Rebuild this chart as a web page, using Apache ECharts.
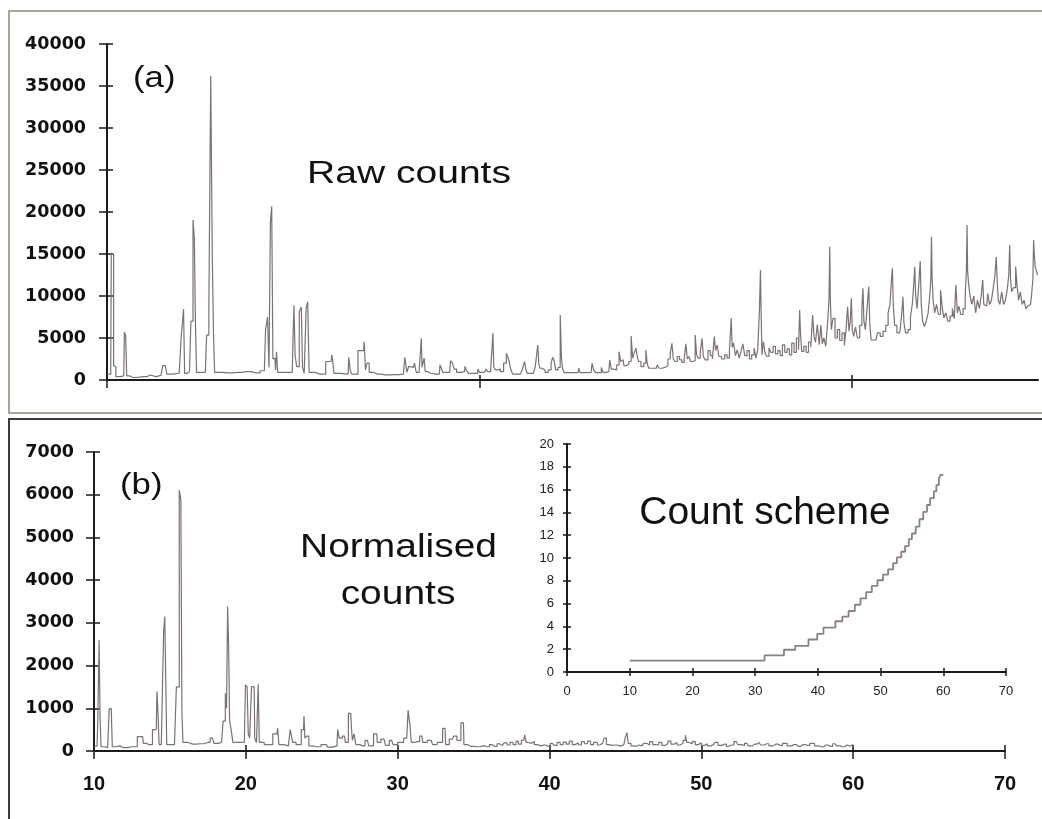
<!DOCTYPE html>
<html>
<head>
<meta charset="utf-8">
<script src="https://cdn.jsdelivr.net/npm/echarts/dist/echarts.min.js"></script>
<style>
html,body{margin:0;padding:0;background:#fff;}
#c{width:1042px;height:819px;}
</style>
</head>
<body>
<div id="c"></div>
<script>
// ---- Panel (a): raw counts [x, counts] ----
const rawCounts = [
[10.0,700],[10.2,700],[10.26,15100],[10.33,15000],[10.38,1700],[10.45,1600],[10.5,400],[10.9,500],[10.97,5700],[11.03,5300],[11.09,500],[11.3,300],[11.5,350],[12.0,400],[12.3,600],[12.4,400],[12.9,550],[13.09,1700],[13.18,1800],[13.25,700],[13.88,800],[14.08,5000],[14.14,8450],[14.2,800],[14.43,1000],[14.58,7000],[14.66,19050],[14.72,16900],[14.78,6800],[14.84,900],[15.28,900],[15.42,5350],[15.52,8500],[15.62,36200],[15.69,14500],[15.75,5500],[15.81,900],[16.5,850],[17.0,900],[17.5,1000],[18.0,850],[18.45,1100],[18.58,5950],[18.66,7500],[18.74,1500],[18.81,18700],[18.88,20650],[18.94,2500],[19.02,2600],[19.08,1200],[19.13,3350],[19.2,900],[19.95,900],[20.01,4000],[20.07,8900],[20.13,3000],[20.25,1600],[20.4,8150],[20.47,8700],[20.53,1500],[20.65,800],[20.74,8550],[20.82,9300],[20.89,900],[21.45,700],[22.04,2200],[22.1,3000],[22.15,2300],[22.22,800],[22.95,700],[23.02,2700],[23.1,1200],[23.18,700],[23.78,3500],[23.85,4560],[23.91,1200],[24.03,2000],[24.13,900],[24.53,700],[24.93,600],[25.42,650],[25.92,700],[26.07,2700],[26.14,900],[26.26,1600],[26.36,1800],[26.46,1500],[26.56,2000],[26.66,900],
[26.86,900],[26.9,4960],[26.94,1500],[27.0,2000],[27.06,2600],[27.12,1000],[27.3,800],[27.5,700],[27.85,700],[27.92,1800],[28.0,1400],[28.08,900],[28.4,900],[28.5,2300],[28.6,2000],[28.7,1300],[28.85,900],[29.2,1000],[29.25,1600],[29.35,1200],[29.45,800],[29.9,800],[29.95,1300],[30.05,900],[30.3,1000],[30.4,1300],[30.5,1000],[30.7,1200],[30.75,5560],[30.8,1500],[30.95,1200],[31.05,1300],[31.2,1000],[31.4,2000],[31.5,3170],[31.56,2700],[31.64,2200],[31.72,1300],[31.85,700],[32.2,700],[32.4,1200],[32.45,2200],[32.52,1400],[32.6,800],[32.9,800],[33.1,1600],[33.17,4170],[33.22,1800],[33.3,1400],[33.45,1200],[33.6,900],[33.8,1200],[33.9,2000],[33.97,2700],[34.05,2300],[34.15,1200],[34.3,1500],[34.38,7740],[34.43,2700],[34.5,1400],[34.6,870],[35.3,870],[35.38,1400],[35.44,870],[36.0,900],[36.1,2000],[36.18,1200],[36.3,870],[36.5,870],[36.6,1500],[36.68,900],[36.95,1000],[37.05,2380],[37.12,1300],[37.3,1200],[37.45,1800],[37.55,3370],[37.62,2200],[37.72,2400],[37.8,1700],[37.95,1900],[38.1,2200],[38.2,5240],[38.26,2600],[38.36,3200],[38.45,3800],[38.52,2700],[38.6,2200],[38.75,1600],[38.9,2000],[38.98,3570],[39.05,1900],[39.15,1400],[39.5,1400],[39.6,1800],[39.7,1400],[39.9,1500],[40.05,1700],[40.2,2500],[40.3,3200],[40.38,4370],[40.45,2500],[40.55,2200],[40.7,2800],[40.8,2400],[40.95,2100],[41.05,2600],[41.13,4300],[41.2,2500],[41.3,2800],[41.4,2200],[41.55,2300],[41.63,5360],[41.7,3000],[41.8,2600],[41.92,3300],[41.99,4960],[42.06,2800],[42.2,2400],[42.35,3500],[42.45,2900],[42.58,2500],[42.65,5160],[42.72,3500],[42.82,4170],[42.9,2800],[43.1,2500],[43.25,3000],[43.35,2600],[43.5,3400],[43.55,7340],[43.6,3900],[43.7,4400],[43.8,2900],[43.9,3600],[44.0,2600],[44.1,3400],[44.2,4300],[44.3,2900],[44.45,3500],[44.55,2500],[44.7,3000],[44.8,3800],[44.9,2600],[45.0,3700],[45.08,8330],[45.11,13100],[45.15,8000],[45.2,3000],[45.3,4560],[45.38,3200],[45.5,2800],[45.6,3800],[45.7,3300],[45.85,4000],[45.95,3100],[46.1,3500],[46.2,2900],[46.35,4170],[46.45,3300],[46.6,3700],[46.7,3000],[46.85,4400],[46.95,3300],[47.1,5000],[47.18,3600],[47.22,8330],[47.27,5500],[47.35,3400],[47.5,4000],[47.6,3300],[47.75,4500],[47.85,3900],[47.94,7740],[48.0,5200],[48.1,4500],[48.2,6600],[48.3,4200],[48.38,6550],[48.45,4300],[48.55,5000],[48.65,4000],[48.75,6800],[48.8,9520],[48.83,15870],[48.87,9520],[48.93,6000],[49.05,7340],[49.15,5000],[49.3,6000],[49.4,4700],[49.55,5600],[49.65,4100],[49.73,6000],[49.82,8730],[49.88,5800],[49.95,7000],[50.0,9720],[50.05,6000],[50.15,5200],[50.25,6300],[50.35,5000],[50.5,6500],[50.58,8500],[50.62,10910],[50.68,7000],[50.78,6000],[50.88,8800],[50.94,11110],[51.0,6500],[51.08,4760],[51.3,4760],[51.45,5600],[51.6,5200],[51.75,5800],[51.9,6500],[52.0,8000],[52.1,9000],[52.16,12000],[52.2,13290],[52.25,9000],[52.35,6500],[52.5,5600],[52.65,5600],[52.72,8000],[52.77,9920],[52.83,6800],[52.95,5600],[53.1,6000],[53.2,7500],[53.3,9000],[53.36,11500],[53.4,13490],[53.46,10000],[53.55,8500],[53.65,11500],[53.7,14170],[53.76,9000],[53.85,7000],[53.95,6350],[54.05,7000],[54.15,8000],[54.22,10000],[54.27,12000],[54.29,17060],[54.33,12500],[54.4,9500],[54.5,8000],[54.6,9000],[54.7,7800],[54.83,10700],[54.9,8500],[55.0,7400],[55.1,8000],[55.2,7000],[55.35,7600],[55.45,8500],[55.55,7300],[55.63,11310],[55.7,8000],[55.8,8800],[55.9,7800],[56.05,8500],[56.13,10000],[56.18,13000],[56.2,18450],[56.24,13000],[56.3,11500],[56.4,10000],[56.5,9000],[56.6,10000],[56.7,8000],[56.8,9500],[56.9,8500],[57.0,10000],[57.06,11900],[57.12,9000],[57.25,8800],[57.35,10300],[57.45,9000],[57.55,9500],[57.65,11000],[57.73,12500],[57.78,14680],[57.83,12000],[57.9,9500],[58.0,9000],[58.1,10500],[58.2,9000],[58.3,9500],[58.4,10800],[58.46,12500],[58.5,16070],[58.55,12000],[58.62,10500],[58.75,11000],[58.85,13500],[58.92,11000],[59.0,9500],[59.1,10500],[59.2,9000],[59.3,9500],[59.4,8500],[59.5,8800],[59.6,9000],[59.7,10000],[59.75,12000],[59.78,16670],[59.82,15000],[59.88,13500],[59.95,13000],[60.0,12500]
];

// ---- Panel (b): normalised counts [x, counts] ----
const normCounts = [
[10.0,100],[10.2,120],[10.3,700],[10.37,2600],[10.43,750],[10.5,100],[10.9,80],[11.1,980],[11.17,1000],[11.24,100],[11.5,120],[11.9,80],[12.5,100],[13.2,335],[13.3,180],[13.6,150],[14.1,500],[14.19,1390],[14.25,860],[14.32,150],[14.55,200],[14.62,2790],[14.7,3150],[14.76,1600],[14.82,150],[15.3,150],[15.55,1500],[15.68,6110],[15.76,5880],[15.82,900],[15.9,200],[16.5,160],[17.0,170],[17.5,200],[17.8,300],[18.0,180],[18.4,200],[18.6,700],[18.7,1350],[18.76,1000],[18.84,3380],[18.9,2400],[18.96,700],[19.1,500],[19.2,200],[19.9,200],[20.05,1550],[20.12,1500],[20.2,400],[20.3,300],[20.45,1510],[20.55,1500],[20.62,300],[20.78,200],[20.85,1560],[20.92,200],[21.5,150],[22.05,400],[22.14,530],[22.22,150],[22.8,120],[23.05,500],[23.12,200],[23.5,150],[23.8,500],[23.86,820],[23.92,300],[24.1,350],[24.2,120],[24.6,100],[25.3,150],[25.5,90],[26.0,120],[26.1,500],[26.2,300],[26.5,350],[26.6,200],[26.91,880],[26.98,600],[27.05,250],[27.2,400],[27.3,150],[27.7,120],[28.0,250],[28.2,120],[28.62,400],[28.7,200],[29.1,280],[29.3,130],[29.6,250],[29.8,150],[30.2,200],[30.6,300],[30.77,960],[30.85,600],[30.95,200],[31.3,220],[31.6,350],[31.7,200],[32.2,250],[32.4,150],[32.8,200],[33.12,530],[33.2,150],[33.6,280],[33.8,350],[34.0,250],[34.33,660],
[34.4,150],[34.8,110],[35.2,100],[35.6,120],[35.9,100],[36.2,150],[36.4,110],[36.7,170],[36.9,130],[37.1,190],[37.3,140],[37.5,200],[37.7,150],[37.9,230],[38.0,160],[38.3,250],[38.43,375],[38.5,200],[38.7,180],[38.9,220],[39.1,150],[39.3,120],[39.6,140],[39.9,110],[40.2,180],[40.4,130],[40.6,200],[40.8,150],[41.0,210],[41.2,160],[41.4,230],[41.6,150],[41.8,190],[42.0,140],[42.2,220],[42.4,170],[42.6,230],[42.8,150],[43.0,200],[43.3,140],[43.5,180],[43.7,300],[43.8,150],[44.0,130],[44.3,140],[44.6,120],[44.9,150],[45.05,300],[45.15,430],[45.22,180],[45.5,120],[45.7,110],[45.9,140],[46.1,120],[46.3,180],[46.5,140],[46.7,220],[46.9,150],[47.1,140],[47.3,200],[47.5,130],[47.7,170],[47.9,230],[48.1,160],[48.3,200],[48.5,140],[48.7,180],[48.9,250],[49.0,370],[49.08,200],[49.3,170],[49.5,220],[49.7,150],[49.9,190],[50.1,130],[50.3,170],[50.5,120],[50.8,150],[51.0,200],[51.2,130],[51.5,160],[51.8,110],[52.0,140],[52.3,220],[52.5,150],[52.7,130],[53.0,180],[53.2,120],[53.5,160],[53.8,200],[54.0,140],[54.3,170],[54.6,120],[54.9,160],[55.2,130],[55.5,180],[55.8,120],[56.1,150],[56.4,110],[56.7,150],[57.0,130],[57.3,180],[57.6,120],[57.9,100],[58.2,140],[58.5,110],[58.8,170],[59.0,120],[59.3,100],[59.6,140],[59.8,110],[60.0,150]
];

// ---- Inset: count scheme (step starts and levels) ----
const schemeX = [10,31.5,34.6,36.4,38.5,39.9,40.9,42.8,43.9,44.9,45.9,46.8,47.7,48.6,49.5,50.4,51.2,52.0,52.6,53.3,53.9,54.5,55.0,55.6,56.2,56.8,57.4,57.9,58.5,58.9,59.3,59.6,60.0];
const schemeY = [1.0,1.45,1.95,2.3,2.85,3.35,3.9,4.45,4.85,5.35,5.9,6.45,7.0,7.55,8.05,8.55,9.0,9.55,10.05,10.55,11.05,11.65,12.15,12.75,13.4,14.05,14.65,15.25,15.85,16.4,17.0,17.3,17.3];

// tick positions on the unlabeled raw-count x axis
const rawTicksX = [10, 30, 50];

const lineColor = '#7b7371';
const axisColor = '#1a1a1a';
const plain = v => String(v);

function baseAxis(extra) {
  return Object.assign({
    type: 'value',
    splitLine: { show: false },
    axisLine: { show: true, onZero: false, lineStyle: { color: axisColor, width: 2 } },
    axisTick: { show: true, length: 8, lineStyle: { color: axisColor, width: 1.5 } },
    axisLabel: { show: true }
  }, extra);
}
function dupAxis(extra, len, custom) {
  const t = { show: true, inside: true, length: len, lineStyle: { color: axisColor, width: 1.5 } };
  if (custom) t.customValues = custom;
  return Object.assign({
    type: 'value',
    splitLine: { show: false },
    axisLine: { show: false },
    axisTick: t,
    axisLabel: { show: false }
  }, extra);
}

const yLabelA = { fontFamily: 'DejaVu Sans', fontWeight: 'bold', fontSize: 17.5, color: '#111', margin: 21, formatter: plain };
const yLabelB = { fontFamily: 'DejaVu Sans', fontWeight: 'bold', fontSize: 17.5, color: '#111', margin: 20, formatter: plain };
const xLabelB = { fontFamily: 'Liberation Sans', fontWeight: 'bold', fontSize: 20, color: '#111', margin: 23, formatter: plain };
const insetLabelY = { fontFamily: 'Liberation Sans', fontSize: 13, color: '#222', margin: 13, formatter: plain };
const insetLabelX = { fontFamily: 'Liberation Sans', fontSize: 13, color: '#222', margin: 13, formatter: plain };

const chart = echarts.init(document.getElementById('c'), null, { renderer: 'canvas' });

const option = {
  animation: false,
  backgroundColor: '#ffffff',
  grid: [
    { left: 107, right: 4, top: 44, height: 336 },
    { left: 94, right: 37, top: 452, height: 299 },
    { left: 567, right: 36, top: 444, height: 228 }
  ],
  xAxis: [
    baseAxis({ gridIndex: 0, position: 'bottom', min: 10, max: 60, interval: 10,
      axisTick: { show: true, length: 8, customValues: rawTicksX, lineStyle: { color: axisColor, width: 1.5 } },
      axisLabel: { show: false } }),
    dupAxis({ gridIndex: 0, position: 'bottom', min: 10, max: 60, interval: 10 }, 5, rawTicksX),
    baseAxis({ gridIndex: 1, position: 'bottom', min: 10, max: 70, interval: 10, axisLabel: xLabelB }),
    dupAxis({ gridIndex: 1, position: 'bottom', min: 10, max: 70, interval: 10 }, 6),
    baseAxis({ gridIndex: 2, position: 'bottom', min: 0, max: 70, interval: 10, axisLabel: insetLabelX,
      axisTick: { show: true, length: 4, lineStyle: { color: axisColor, width: 1.5 } } }),
    dupAxis({ gridIndex: 2, position: 'bottom', min: 0, max: 70, interval: 10 }, 4)
  ],
  yAxis: [
    baseAxis({ gridIndex: 0, position: 'left', min: 0, max: 40000, interval: 5000, axisLabel: yLabelA }),
    dupAxis({ gridIndex: 0, position: 'left', min: 0, max: 40000, interval: 5000 }, 6),
    baseAxis({ gridIndex: 1, position: 'left', min: 0, max: 7000, interval: 1000, axisLabel: yLabelB }),
    dupAxis({ gridIndex: 1, position: 'left', min: 0, max: 7000, interval: 1000 }, 6),
    baseAxis({ gridIndex: 2, position: 'left', min: 0, max: 20, interval: 2, axisLabel: insetLabelY,
      axisTick: { show: true, length: 4, lineStyle: { color: axisColor, width: 1.5 } } }),
    dupAxis({ gridIndex: 2, position: 'left', min: 0, max: 20, interval: 2 }, 4)
  ],
  series: [
    { type: 'line', xAxisIndex: 0, yAxisIndex: 0, data: rawCounts, step: 'middle',
      showSymbol: false, silent: true, lineStyle: { color: lineColor, width: 1.2 } },
    { type: 'line', xAxisIndex: 2, yAxisIndex: 2, data: normCounts, step: 'middle',
      showSymbol: false, silent: true, lineStyle: { color: lineColor, width: 1.2 } },
    { type: 'line', xAxisIndex: 4, yAxisIndex: 4, step: 'end',
      data: schemeX.map((x, i) => [x, schemeY[i]]),
      showSymbol: false, silent: true, lineStyle: { color: '#8a8280', width: 1.8 } }
  ],
  graphic: [
    { type: 'rect', shape: { x: 9, y: 11, width: 1100, height: 402 },
      style: { fill: 'none', stroke: '#a9a697', lineWidth: 2 }, silent: true },
    { type: 'rect', shape: { x: 9, y: 419, width: 1100, height: 500 },
      style: { fill: 'none', stroke: '#3a3a3a', lineWidth: 2 }, silent: true },
    { type: 'text', x: 133, y: 79, scaleX: 1.2,
      style: { text: '(a)', font: '29px "Liberation Sans"', fill: '#111', align: 'left', verticalAlign: 'middle' } },
    { type: 'text', x: 307, y: 174, scaleX: 1.22,
      style: { text: 'Raw counts', font: '32px "Liberation Sans"', fill: '#111', align: 'left', verticalAlign: 'middle' } },
    { type: 'text', x: 120, y: 486, scaleX: 1.2,
      style: { text: '(b)', font: '29px "Liberation Sans"', fill: '#111', align: 'left', verticalAlign: 'middle' } },
    { type: 'text', x: 398.5, y: 548, scaleX: 1.18,
      style: { text: 'Normalised', font: '33px "Liberation Sans"', fill: '#111', align: 'center', verticalAlign: 'middle' } },
    { type: 'text', x: 398, y: 595, scaleX: 1.18,
      style: { text: 'counts', font: '33px "Liberation Sans"', fill: '#111', align: 'center', verticalAlign: 'middle' } },
    { type: 'text', x: 765, y: 513,
      style: { text: 'Count scheme', font: '39px "Liberation Sans"', fill: '#111', align: 'center', verticalAlign: 'middle' } }
  ]
};
chart.setOption(option);
</script>
</body>
</html>
